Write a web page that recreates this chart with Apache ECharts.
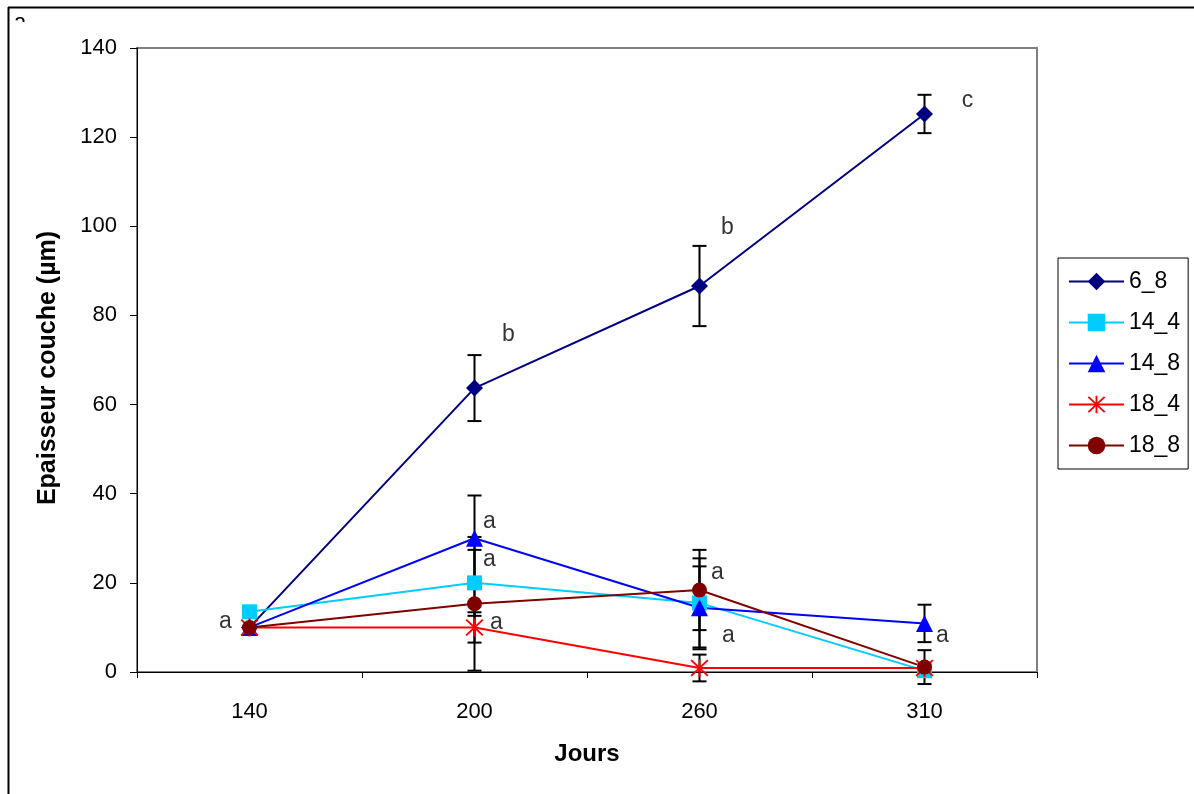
<!DOCTYPE html>
<html>
<head>
<meta charset="utf-8">
<script src="https://cdn.jsdelivr.net/npm/echarts@6/dist/echarts.min.js"></script>
<style>
html,body{margin:0;padding:0;background:#fff;}
#chart{width:1194px;height:794px;}
</style>
</head>
<body>
<div id="chart"></div>
<script>
// ---- data ----
const categories = ['140', '200', '260', '310'];
const seriesNames = ['6_8', '14_4', '14_8', '18_4', '18_8'];
const s6_8  = [10, 63.7, 86.6, 125.2];
const s14_4 = [13.5, 20, 15.5, 0.3];
const s14_8 = [10, 30, 14.4, 10.9];
const s18_4 = [10, 10, 0.9, 0.9];
const s18_8 = [10, 15.3, 18.4, 1.1];
// error (± half-width)
const e6_8  = [0, 7.4, 9, 4.3];
const e14_4 = [0, 7.4, 10, 0.5];
const e14_8 = [0, 9.6, 9.3, 4.2];
const e18_4 = [0, 3.4, 3, 0.5];
const e18_8 = [0, 15, 9, 3.8];
// significance letters
const letterCats  = ['140', '200', '200', '200', '200', '260', '260', '260', '310', '310'];
const letterVals  = [11.2, 75.6, 33.7, 25.1, 11.0, 99.6, 22.4, 8.1, 128.1, 8.1];
const letterTexts = ['a', 'b', 'a', 'a', 'a', 'b', 'a', 'a', 'c', 'a'];
const yTicks = [0, 20, 40, 60, 80, 100, 120, 140];

// ---- styles ----
const letterDx = [-24, 34, 15, 15, 22, 28, 18, 29, 43, 18];
const colors = ['#000080', '#00CCFF', '#0000FF', '#FF0000', '#800000'];
const asterisk = 'path://M-1,-10 L1,-10 L1,10 L-1,10 Z M-8,-9.4 L9.4,8 L8,9.4 L-9.4,-8 Z M8,-9.4 L9.4,-8 L-8,9.4 L-9.4,8 Z';
const symbols = ['diamond', 'rect', 'triangle', asterisk, 'circle'];
const symSizes = [17, 15, 17, 18, 15];
const FONT = '"Liberation Sans", Arial, sans-serif';

const values = [s6_8, s14_4, s14_8, s18_4, s18_8];
const errors = [e6_8, e14_4, e14_8, e18_4, e18_8];

const errData = [];
values.forEach((vals, si) => {
  vals.forEach((v, i) => {
    const e = errors[si][i];
    if (e > 0) errData.push([i, v - e, v + e]);
  });
});

const lineSeries = seriesNames.map((name, si) => ({
  name: name,
  type: 'line',
  data: values[si],
  symbol: symbols[si],
  symbolSize: symSizes[si],
  showAllSymbol: true,
  lineStyle: { color: colors[si], width: 2 },
  itemStyle: { color: colors[si], borderWidth: 0 },
  emphasis: { disabled: true },
  z: 3
}));

const option = {
  animation: false,
  backgroundColor: '#fff',
  textStyle: { fontFamily: FONT },
  grid: {
    left: 137, right: 157, top: 48, bottom: 122,
    show: true, borderColor: '#808080', borderWidth: 2, backgroundColor: 'transparent'
  },
  legend: {
    orient: 'vertical',
    left: 1058, top: 258,
    padding: [12, 8, 12, 10],
    itemGap: 18,
    itemWidth: 55,
    itemHeight: 22,
    borderColor: '#000', borderWidth: 1,
    data: seriesNames,
    textStyle: { fontSize: 23, color: '#000', fontFamily: FONT, lineHeight: 22 }
  },
  xAxis: {
    type: 'category',
    data: categories,
    boundaryGap: true,
    name: 'Jours',
    nameLocation: 'middle',
    nameGap: 70,
    nameTextStyle: { fontSize: 24, fontWeight: 'bold', color: '#000', fontFamily: FONT },
    axisLine: { lineStyle: { color: '#000', width: 1 } },
    axisTick: { show: true, length: 6, lineStyle: { color: '#000' }, alignWithLabel: false },
    axisLabel: { fontSize: 22, color: '#000', margin: 29, fontFamily: FONT },
    splitLine: { show: false }
  },
  yAxis: {
    type: 'value',
    min: yTicks[0], max: yTicks[yTicks.length - 1], interval: yTicks[1] - yTicks[0],
    name: 'Epaisseur couche (µm)',
    nameLocation: 'middle',
    nameGap: 76,
    nameTextStyle: { fontSize: 25, fontWeight: 'bold', color: '#000', fontFamily: FONT, padding: [0, 16, 0, 0] },
    axisLine: { show: true, lineStyle: { color: '#000', width: 1 } },
    axisTick: { show: true, length: 7, lineStyle: { color: '#000' } },
    axisLabel: { fontSize: 22, color: '#000', margin: 20, fontFamily: FONT },
    splitLine: { show: false }
  },
  graphic: [
    { type: 'line', shape: { x1: 8, y1: 7.5, x2: 1194, y2: 7.5 }, style: { stroke: '#000', lineWidth: 2 } },
    { type: 'line', shape: { x1: 8.5, y1: 7, x2: 8.5, y2: 794 }, style: { stroke: '#000', lineWidth: 2 } },
    { type: 'text', left: 14, top: 12, style: { text: 'a', font: '22px ' + FONT, fill: '#000' }, z: 10 },
    { type: 'rect', shape: { x: 11, y: 22, width: 30, height: 20 }, style: { fill: '#fff' }, z: 11 }
  ],
  series: [
    {
      name: 'errors',
      type: 'custom',
      data: errData,
      z: 2,
      silent: true,
      renderItem: function (params, api) {
        const x = api.value(0);
        const lo = api.coord([x, api.value(1)]);
        const hi = api.coord([x, api.value(2)]);
        const cw = 7;
        const st = { stroke: '#000', lineWidth: 2 };
        return {
          type: 'group',
          children: [
            { type: 'line', shape: { x1: lo[0], y1: lo[1], x2: hi[0], y2: hi[1] }, style: st },
            { type: 'line', shape: { x1: lo[0] - cw, y1: lo[1], x2: lo[0] + cw, y2: lo[1] }, style: st },
            { type: 'line', shape: { x1: hi[0] - cw, y1: hi[1], x2: hi[0] + cw, y2: hi[1] }, style: st }
          ]
        };
      }
    }
  ].concat(lineSeries).concat([
    {
      name: 'letters',
      type: 'scatter',
      symbolSize: 0,
      silent: true,
      z: 5,
      data: letterCats.map((c, i) => ({
        value: [c, letterVals[i]],
        label: {
          show: true,
          formatter: letterTexts[i],
          position: 'inside',
          offset: [letterDx[i], 0],
          fontSize: 23,
          color: '#000',
          fontFamily: FONT
        }
      }))
    }
  ])
};

const chart = echarts.init(document.getElementById('chart'), null, { renderer: 'canvas' });
chart.setOption(option);
</script>
</body>
</html>
